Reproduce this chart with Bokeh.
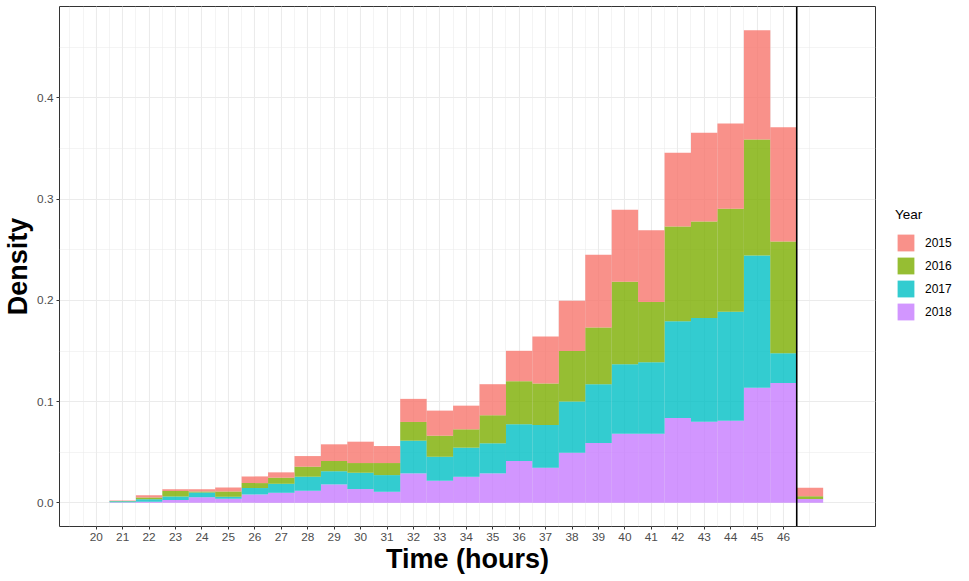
from bokeh.plotting import figure
from bokeh.layouts import row
from bokeh.models import (Range1d, FixedTicker, PrintfTickFormatter, Span, Legend,
                          LegendItem, ColumnDataSource)
from bokeh.embed import file_html
from bokeh.resources import INLINE

# ---- data ----
hours = list(range(21, 48))
years = ["2015", "2016", "2017", "2018"]
colors = {"2015": "#F8766D", "2016": "#7CAE00", "2017": "#00BFC4", "2018": "#C77CFF"}

d2018 = [0.0006, 0.0010, 0.0027, 0.0056, 0.0040, 0.0083, 0.0099, 0.0119, 0.0182, 0.0136,
         0.0109, 0.0291, 0.0218, 0.0257, 0.0291, 0.0413, 0.0347, 0.0495, 0.0591, 0.0683,
         0.0683, 0.0839, 0.0802, 0.0812, 0.1136, 0.1185, 0.0037]
d2017 = [0.0009, 0.0026, 0.0036, 0.0047, 0.0020, 0.0063, 0.0089, 0.0139, 0.0130, 0.0161,
         0.0165, 0.0323, 0.0237, 0.0288, 0.0297, 0.0363, 0.0422, 0.0505, 0.0581, 0.0687,
         0.0707, 0.0955, 0.1023, 0.1076, 0.1307, 0.0294, 0.0000]
d2016 = [0.0003, 0.0017, 0.0053, 0.0009, 0.0053, 0.0049, 0.0060, 0.0099, 0.0101, 0.0096,
         0.0119, 0.0185, 0.0208, 0.0181, 0.0277, 0.0426, 0.0409, 0.0499, 0.0561, 0.0815,
         0.0594, 0.0937, 0.0954, 0.1017, 0.1148, 0.1102, 0.0029]
d2015 = [0.0006, 0.0023, 0.0017, 0.0021, 0.0039, 0.0066, 0.0053, 0.0105, 0.0165, 0.0211,
         0.0168, 0.0228, 0.0248, 0.0234, 0.0307, 0.0300, 0.0466, 0.0498, 0.0719, 0.0710,
         0.0709, 0.0728, 0.0878, 0.0842, 0.1079, 0.1129, 0.0083]

x_ticks = list(range(20, 47))
x_minor = [19 + 0.5 * i for i in range(57)]
y_ticks = [0.0, 0.1, 0.2, 0.3, 0.4]
y_minor = [0.05, 0.15, 0.25, 0.35, 0.45]
cutoff = 46.5

src = ColumnDataSource(dict(hours=hours, y2018=d2018, y2017=d2017, y2016=d2016, y2015=d2015))

H = 578
p = figure(width=878, height=H,
           x_range=Range1d(18.61, 49.48), y_range=Range1d(-0.0234, 0.4904),
           output_backend="svg", toolbar_location=None,
           min_border_top=6, min_border_left=50, min_border_right=3, min_border_bottom=52,
           background_fill_color="white", border_fill_color="white")

stack_years = ["2018", "2017", "2016", "2015"]
rs = p.vbar_stack(["y" + y for y in stack_years], x="hours", width=1.0, source=src,
                  fill_color=[colors[y] for y in stack_years], fill_alpha=0.8,
                  line_color=None)

p.add_layout(Span(location=cutoff, dimension="height", line_color="black", line_width=1.6))

# grid
for g in (p.xgrid, p.ygrid):
    g.grid_line_color = "#EBEBEB"
    g.grid_line_width = 1.1
    g.minor_grid_line_color = "#EBEBEB"
    g.minor_grid_line_width = 0.55

p.xaxis.ticker = FixedTicker(ticks=x_ticks, minor_ticks=x_minor)
p.yaxis.ticker = FixedTicker(ticks=y_ticks, minor_ticks=y_minor)
p.yaxis.formatter = PrintfTickFormatter(format="%.1f")

p.outline_line_color = "#333333"
p.outline_line_width = 1

for ax in (p.xaxis[0], p.yaxis[0]):
    ax.axis_line_color = None
    ax.major_tick_line_color = "#333333"
    ax.major_tick_out = 3
    ax.major_tick_in = 0
    ax.minor_tick_line_color = None
    ax.major_label_text_font = "Liberation Sans"
    ax.major_label_text_font_size = "11.8px"
    ax.major_label_text_color = "#4D4D4D"
    ax.axis_label_text_font = "Liberation Sans"
    ax.axis_label_text_font_size = "27px"
    ax.axis_label_text_font_style = "bold"
    ax.axis_label_text_color = "black"

p.xaxis.axis_label = "Time (hours)"
p.yaxis.axis_label = "Density"
p.xaxis.major_label_standoff = 2
p.xaxis.axis_label_standoff = 0
p.yaxis.major_label_standoff = 2
p.yaxis.axis_label_standoff = 1

# ---- legend panel (separate canvas to the right of the plot) ----
lf = figure(width=83, height=H, x_range=Range1d(0, 1), y_range=Range1d(0, 1),
            x_axis_type=None, y_axis_type=None, output_backend="svg",
            toolbar_location=None, min_border=0, outline_line_color=None,
            background_fill_color="white", border_fill_color="white")
items = []
for y in years:
    # placeholder renderer outside the visible range, used only for its legend swatch
    r = lf.vbar(x=[-10], top=[0], width=1, fill_color=colors[y], fill_alpha=0.8,
                line_color=None)
    items.append(LegendItem(label=y, renderers=[r]))
legend = Legend(items=items, title="Year", location=(17, H - 374),
                glyph_width=21, glyph_height=21, spacing=2, padding=0, margin=0,
                label_standoff=9, label_text_font="Liberation Sans",
                label_text_font_size="12px", label_text_color="black",
                title_text_font="Liberation Sans", title_text_font_size="13.5px",
                title_text_font_style="normal", title_text_color="black",
                title_standoff=10,
                border_line_color=None, background_fill_alpha=0)
lf.add_layout(legend)

layout = row(p, lf)
open("out.html", "w").write(file_html(layout, INLINE))
